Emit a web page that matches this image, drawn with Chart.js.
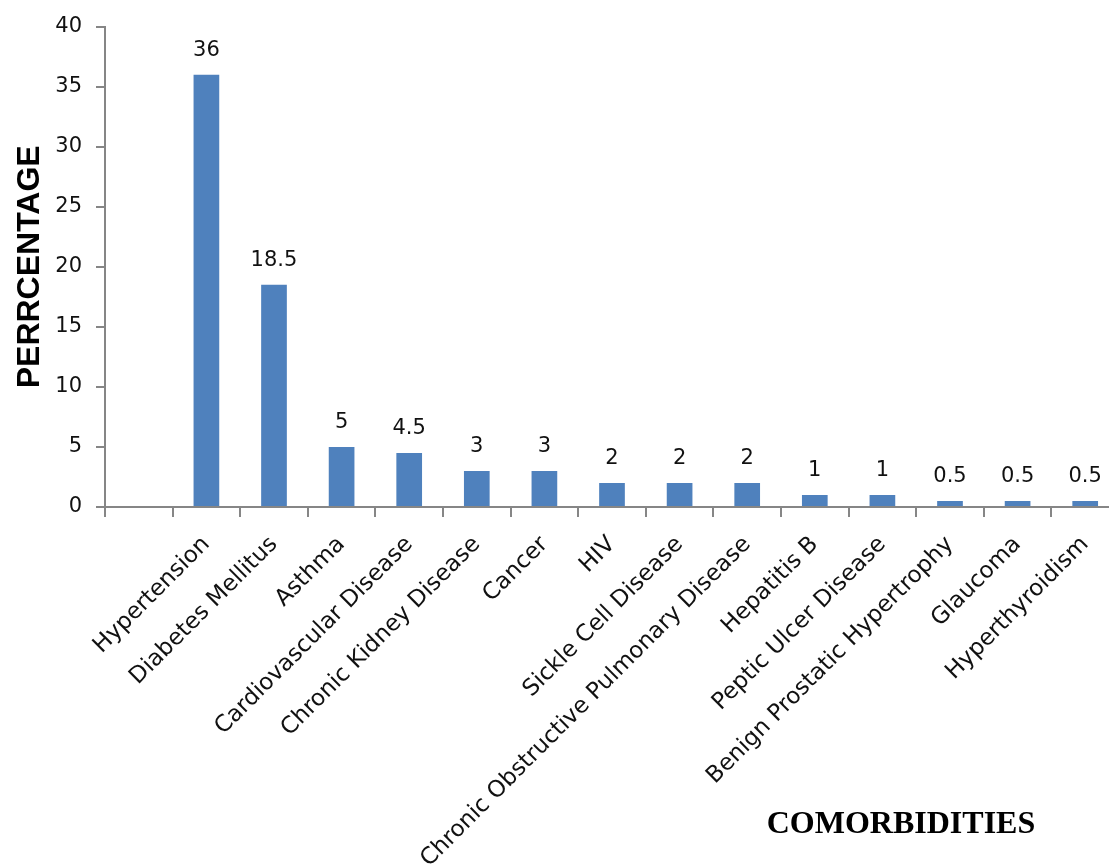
<!DOCTYPE html>
<html>
<head>
<meta charset="utf-8">
<script src="https://cdn.jsdelivr.net/npm/chart.js@4/dist/chart.umd.min.js"></script>
<style>
  html, body { margin: 0; padding: 0; background: #fff; overflow: hidden; }
  canvas { display: block; }
</style>
</head>
<body>
<canvas id="comorbChart" width="1125" height="865"></canvas>
<script>
// first slot is left empty like in the original sheet
var categories = ["", "Hypertension", "Diabetes Mellitus", "Asthma", "Cardiovascular Disease",
    "Chronic Kidney Disease", "Cancer", "HIV", "Sickle Cell Disease",
    "Chronic Obstructive Pulmonary Disease", "Hepatitis B", "Peptic Ulcer Disease",
    "Benign Prostatic Hypertrophy", "Glaucoma", "Hyperthyroidism"];
var percentages = [null, 36, 18.5, 5, 4.5, 3, 3, 2, 2, 2, 1, 1, 0.5, 0.5, 0.5];
var yMin = 0;
var yMax = 40;
var yStep = 5;
var yTitle = "PERRCENTAGE";
var xTitle = "COMORBIDITIES";

var axisColor = "#868686";
var barColor = "#4F81BD";
var tickFont = "DejaVu Sans";

var valueLabels = {
    id: 'valueLabels',
    afterDatasetsDraw: function(chart){
        var ctx = chart.ctx;
        var meta = chart.getDatasetMeta(0);
        ctx.save();
        ctx.font = '21px "' + tickFont + '"';
        ctx.fillStyle = '#111';
        ctx.textAlign = 'center';
        ctx.textBaseline = 'alphabetic';
        meta.data.forEach(function(bar, i){
            var v = percentages[i];
            if(v === null) return;
            ctx.fillText(String(v), bar.x, bar.y - 19);
        });
        ctx.restore();
    }
};

var bottomTitle = {
    id: 'bottomTitle',
    afterDraw: function(chart){
        var ctx = chart.ctx;
        ctx.save();
        ctx.font = 'bold 32px "Liberation Serif"';
        ctx.fillStyle = '#000';
        ctx.textAlign = 'center';
        ctx.textBaseline = 'alphabetic';
        ctx.fillText(xTitle, 901, 833);
        ctx.restore();
    }
};

var chart = document.getElementById('comorbChart');
var comorbChart = new Chart(chart, {
    type: 'bar',
    data: {
        labels: categories,
        datasets: [{
            label: "Percentage",
            data: percentages,
            backgroundColor: barColor,
            borderWidth: 0,
            barPercentage: 0.38,
            categoryPercentage: 1
        }]
    },
    options: {
        responsive: false,
        animation: false,
        layout: { padding: { left: 0, right: 6, top: 25, bottom: 0 } },
        plugins: {
            legend: { display: false },
            tooltip: { enabled: false }
        },
        scales: {
            x: {
                offset: true,
                afterFit: function(scale){ scale.height = 865 - 507; },
                border: { color: axisColor, width: 2 },
                grid: { offset: true, drawOnChartArea: false, drawTicks: true, tickLength: 10, color: axisColor, lineWidth: 2 },
                ticks: {
                    autoSkip: false,
                    minRotation: 45,
                    maxRotation: 45,
                    padding: 14,
                    color: '#111',
                    font: { family: tickFont, size: 23 }
                }
            },
            y: {
                min: yMin,
                max: yMax,
                afterFit: function(scale){ scale.width = 105; },
                border: { color: axisColor, width: 2 },
                grid: { drawOnChartArea: false, drawTicks: true, tickLength: 9, color: axisColor, lineWidth: 2 },
                ticks: {
                    stepSize: yStep,
                    padding: 14,
                    color: '#111',
                    font: { family: tickFont, size: 21 }
                },
                title: {
                    display: true,
                    text: yTitle,
                    color: '#000',
                    padding: { top: 11, bottom: 0 },
                    font: { family: 'Liberation Sans', size: 32, weight: 'bold' }
                }
            }
        }
    },
    plugins: [valueLabels, bottomTitle]
});
</script>
</body>
</html>
